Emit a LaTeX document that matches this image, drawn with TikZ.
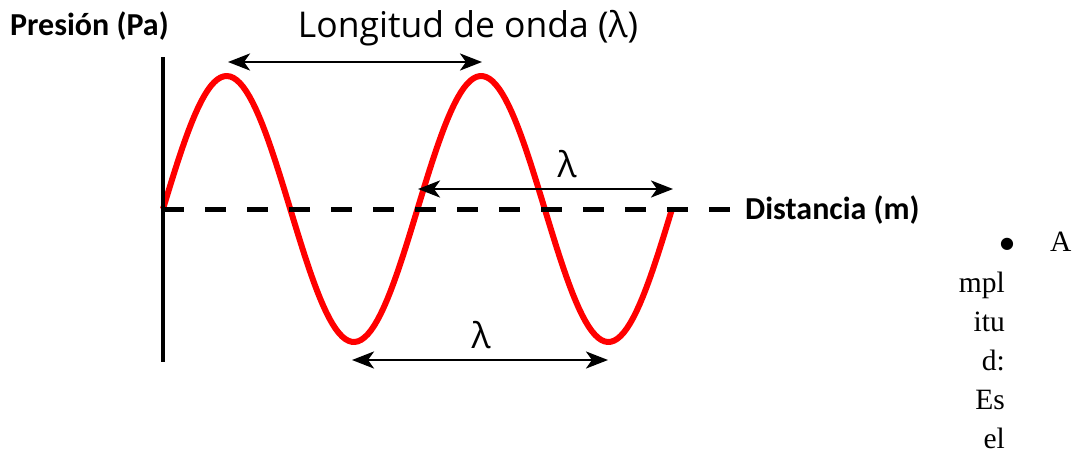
\documentclass[tikz,border=0pt]{standalone}
\usepackage{fontspec}
\usetikzlibrary{arrows.meta}
\newfontfamily\axisfont{Carlito}
\newfontfamily\titlefont{Open Sans}
\newfontfamily\symbolfont{DejaVu Sans}
\setmainfont{Liberation Serif}
\tikzset{
  wave/.style={red,line width=6pt,line join=round},
  dim/.style={line width=2.8pt,{Stealth[length=22pt,width=17pt,inset=6pt]}-{Stealth[length=22pt,width=17pt,inset=6pt]}},
  axislabel/.style={font=\axisfont\bfseries\fontsize{32}{36}\selectfont,inner sep=0pt},
  lambdalabel/.style={font=\titlefont\fontsize{35.5}{40}\selectfont,inner sep=0pt},
  sidetext/.style={font=\fontsize{29.5}{39}\selectfont,inner sep=0pt},
}
\begin{document}
\begin{tikzpicture}[x=1pt,y=-1pt]
\useasboundingbox (0,0) rectangle (1082,453);
% pressure wave
\draw[wave] plot[domain=0:2,samples=160] ({163+254.5*\x},{209-133*sin(360*\x)});
% axes
\draw[line width=4.5pt] (163,57) -- (163,362);
\draw[line width=5pt,dash pattern=on 21pt off 21pt] (163,209) -- (730,209);
\coordinate (peakA) at (228,62);
\coordinate (peakB) at (482,62);
\coordinate (zeroA) at (418,189);
\coordinate (zeroB) at (673,189);
\coordinate (troughA) at (352,360);
\coordinate (troughB) at (608,360);
\draw[dim] (peakA) -- (peakB);
\draw[dim] (zeroA) -- (zeroB);
\draw[dim] (troughA) -- (troughB);
% labels
\node[axislabel,anchor=base west] (ylabel) at (10,35) {Presión (Pa)};
\node[axislabel,anchor=base west] (xlabel) at (745,219) {Distancia (m)};
\node[lambdalabel,anchor=base] (title) at (468,37) {Longitud de onda (λ)};
\node[lambdalabel,anchor=base] (lambdaA) at (567,177) {λ};
\node[lambdalabel,anchor=base] (lambdaB) at (481,348) {λ};
% text beside the figure
\node[font=\symbolfont\fontsize{16}{20}\selectfont,inner sep=0pt] (bullet) at (1007,244) {●};
\node[sidetext,anchor=base west] (first) at (1050,251) {A};
\node[sidetext,align=right,anchor=north east] (rest) at (1005,272) {mpl\\itu\\d:\\Es\\el};
\end{tikzpicture}
\end{document}
